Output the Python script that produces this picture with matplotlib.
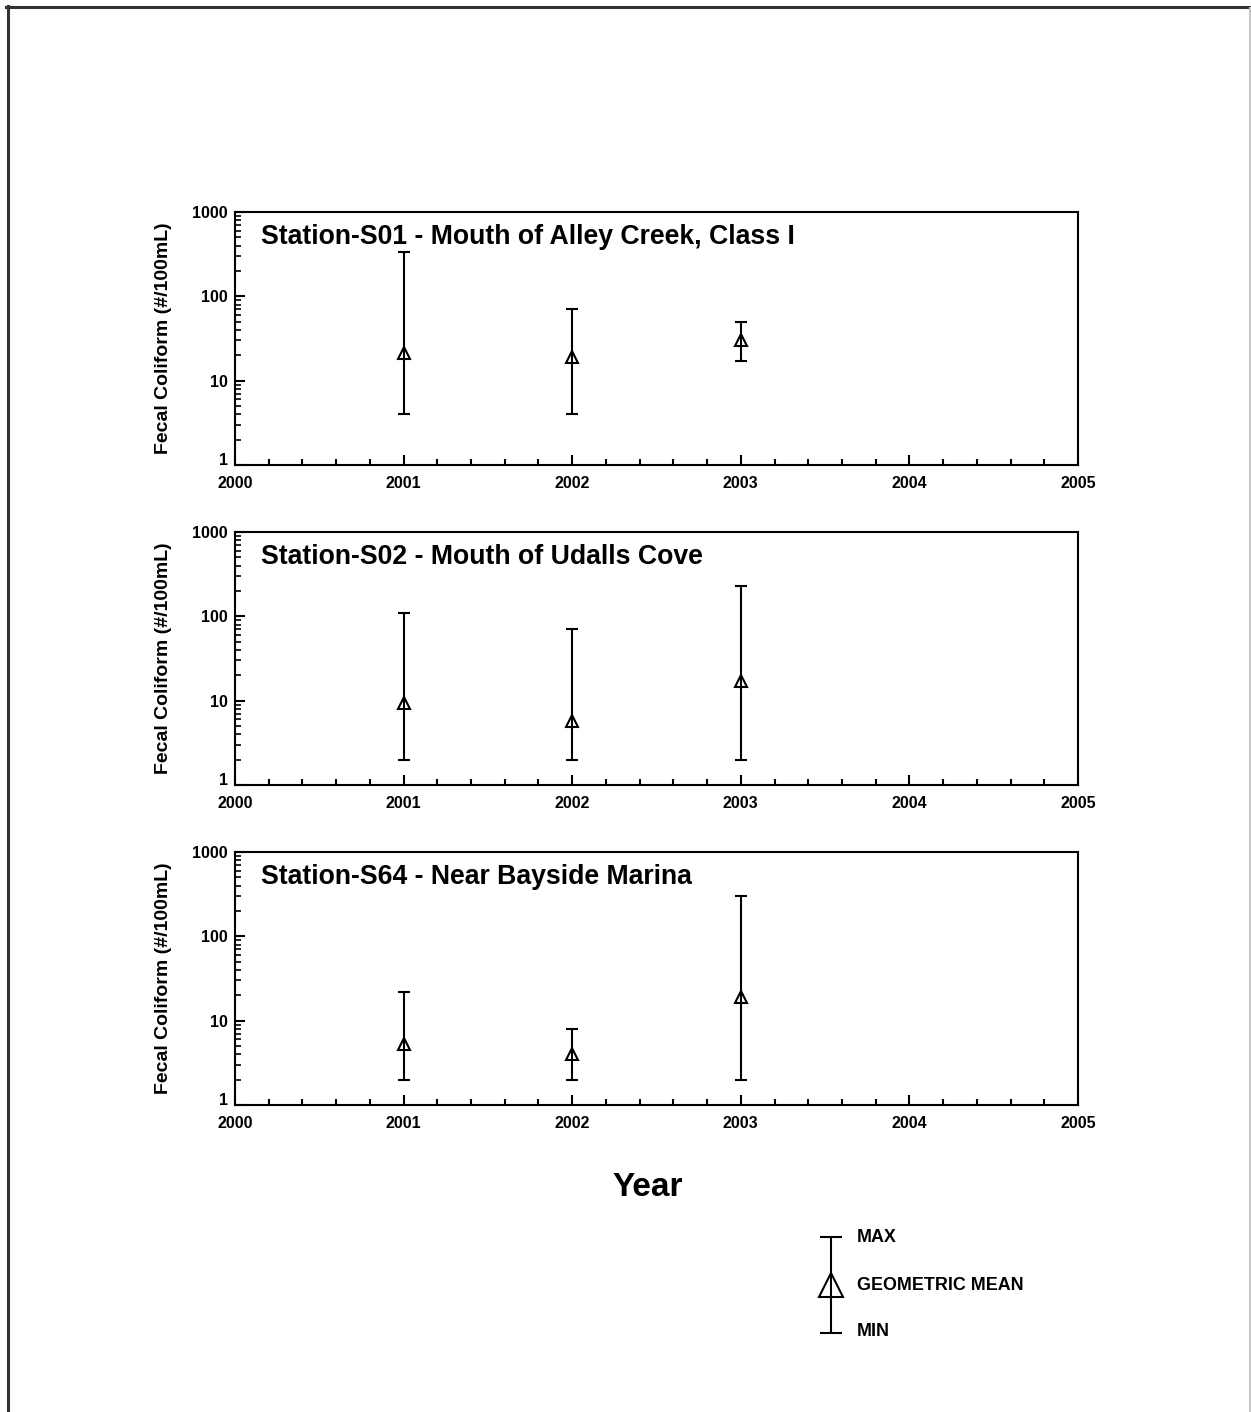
import matplotlib
matplotlib.use("Agg")
import matplotlib.pyplot as plt
from matplotlib.lines import Line2D
from matplotlib.transforms import ScaledTranslation
from matplotlib.ticker import FixedLocator, LogLocator, NullFormatter, MultipleLocator

plt.rcParams['font.family'] = ['Liberation Sans', 'DejaVu Sans']
plt.rcParams['font.weight'] = 'bold'

# Fecal coliform summary per station and year (#/100mL)
years = [2001, 2002, 2003]
stations = [
    "Station-S01 - Mouth of Alley Creek, Class I",
    "Station-S02 - Mouth of Udalls Cove",
    "Station-S64 - Near Bayside Marina",
]
s01_max = [340, 70, 50]
s01_mean = [21, 19, 30]
s01_min = [4, 4, 17]

s02_max = [110, 70, 228]
s02_mean = [9.5, 5.8, 17]
s02_min = [2, 2, 2]

s64_max = [22, 8, 300]
s64_mean = [5.3, 4, 19]
s64_min = [2, 2, 2]

x_ticks = [2000, 2001, 2002, 2003, 2004, 2005]
y_ticks = [1, 10, 100, 1000]

W, H = 1251, 1412
fig = plt.figure(figsize=(W / 100, H / 100), dpi=100)

def px_rect(left, top, right, bottom):
    return [left / W, 1 - bottom / H, (right - left) / W, (bottom - top) / H]

panels = [
    (212, 465, s01_min, s01_mean, s01_max),
    (532, 785, s02_min, s02_mean, s02_max),
    (852, 1105, s64_min, s64_mean, s64_max),
]

LW = 1.5
for (top, bottom, vmin, vmean, vmax), title in zip(panels, stations):
    ax = fig.add_axes(px_rect(235, top, 1078, bottom))
    ax.set_yscale('log')
    ax.set_xlim(2000, 2005)
    ax.set_ylim(1, 1000)
    lower = [m - lo for m, lo in zip(vmean, vmin)]
    upper = [hi - m for m, hi in zip(vmean, vmax)]
    ax.errorbar(years, vmean, yerr=[lower, upper], fmt='^', color='black',
                markerfacecolor='none', markeredgecolor='black', markersize=8.5,
                markeredgewidth=1.5, elinewidth=LW, capsize=4.5, capthick=LW)
    for s in ax.spines.values():
        s.set_linewidth(LW)
    ax.xaxis.set_major_locator(FixedLocator(x_ticks))
    ax.xaxis.set_minor_locator(MultipleLocator(0.2))
    ax.yaxis.set_major_locator(FixedLocator(y_ticks))
    ax.yaxis.set_minor_locator(LogLocator(base=10, subs=range(2, 10)))
    ax.yaxis.set_minor_formatter(NullFormatter())
    ax.set_xticklabels([str(t) for t in x_ticks])
    ax.set_yticklabels([str(t) for t in y_ticks])
    ax.tick_params(axis='x', which='major', direction='in', length=7, width=LW,
                   labelsize=11.5, pad=8, top=False)
    ax.tick_params(axis='x', which='minor', direction='in', length=4, width=LW, top=False)
    ax.tick_params(axis='y', which='major', direction='in', length=7, width=LW,
                   labelsize=11.5, pad=5, right=False)
    ax.tick_params(axis='y', which='minor', direction='in', length=4, width=1.2, right=False)
    for lab in ax.get_xticklabels() + ax.get_yticklabels():
        lab.set_fontweight('bold')
    # lift the bottom "1" label clear of the year labels
    ylabs = ax.get_yticklabels()
    ylabs[0].set_transform(ylabs[0].get_transform() +
                           ScaledTranslation(0, 6 / 100, fig.dpi_scale_trans))
    ax.text(0.031, 0.9, title, transform=ax.transAxes, ha='left', va='center',
            fontsize=19.2, fontweight='bold')
    fig.text(163 / W, 1 - ((top + bottom) / 2) / H, "Fecal Coliform (#/100mL)",
             rotation=90, ha='center', va='center', fontsize=14, fontweight='bold')

fig.text(648 / W, 1 - 1188 / H, "Year", ha='center', va='center',
         fontsize=24, fontweight='bold')

# Key explaining the symbols
lax = fig.add_axes(px_rect(800, 1220, 1100, 1350))
lax.set_xlim(0, 300)
lax.set_ylim(130, 0)
lax.axis('off')
lax.errorbar([31], [65], yerr=[[48], [48]], fmt='^', color='black',
             markerfacecolor='none', markeredgecolor='black', markersize=17,
             markeredgewidth=1.5, elinewidth=LW, capsize=8, capthick=LW)
for yy, txt in [(18, "MAX"), (65, "GEOMETRIC MEAN"), (112, "MIN")]:
    lax.text(57, yy, txt, ha='left', va='center', fontsize=12.9, fontweight='bold')

# Page frame
fig.add_artist(Line2D([6 / W, 1], [1 - 6.5 / H, 1 - 6.5 / H], transform=fig.transFigure,
                      color='#333333', linewidth=2.2))
fig.add_artist(Line2D([7.5 / W, 7.5 / W], [0, 1 - 5.5 / H], transform=fig.transFigure,
                      color='#333333', linewidth=2.2))
fig.add_artist(Line2D([1249.5 / W, 1249.5 / W], [0, 1 - 8 / H], transform=fig.transFigure,
                      color='#c8c8c8', linewidth=1.5))

fig.savefig("out.png", dpi=100, facecolor='white')
